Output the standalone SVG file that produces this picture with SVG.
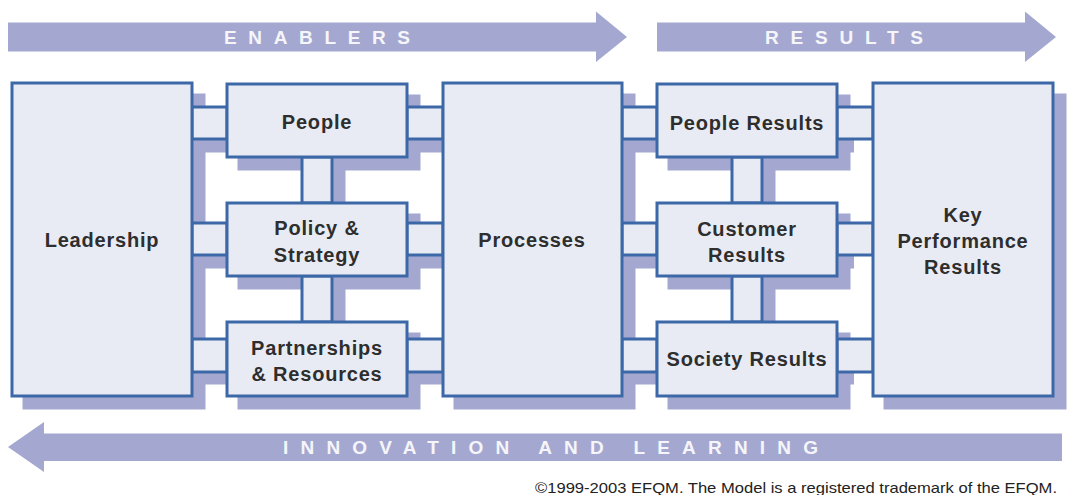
<svg xmlns="http://www.w3.org/2000/svg" width="1068" height="495" viewBox="0 0 1068 495">
<style>
.arrow{fill:#a4a8d0;}
.atext{font-family:"Liberation Sans",Arial,sans-serif;font-weight:bold;font-size:19px;fill:#f5f5fa;}
.sh{fill:#a4a8d0;}
.box{fill:#e9ebf4;stroke:#3d68a8;stroke-width:3;}
.con{fill:#e9ebf4;stroke:#3d68a8;stroke-width:3;}
.lbl{font-family:"Liberation Sans",Arial,sans-serif;font-weight:bold;font-size:20px;fill:#2e2e2e;text-anchor:middle;letter-spacing:0.8px;}
.copy{font-family:"Liberation Sans Narrow","Liberation Sans",Arial,sans-serif;font-size:15px;fill:#222;}
</style>
<rect width="1068" height="495" fill="#ffffff"/>

<g id="enablers-arrow">
<polygon class="arrow" points="8,22.5 596,22.5 596,11.5 627,37 596,62 596,51.5 8,51.5"/>
<text class="atext" x="224" y="44" textLength="186" lengthAdjust="spacing">ENABLERS</text>
</g>
<g id="results-arrow">
<polygon class="arrow" points="657,22.5 1025,22.5 1025,11.5 1056,37 1025,62 1025,51.5 657,51.5"/>
<text class="atext" x="765" y="44" textLength="158" lengthAdjust="spacing">RESULTS</text>
</g>
<g id="innovation-arrow">
<polygon class="arrow" points="8,447 44,422 44,433.5 1062,433.5 1062,461 44,461 44,472"/>
<text class="atext" x="283" y="454" textLength="535" lengthAdjust="spacing">INNOVATION AND LEARNING</text>
</g>

<g id="shadows">
<rect class="sh" x="22.5" y="93.5" width="183" height="316"/>
<rect class="sh" x="237.5" y="94.5" width="183" height="76"/>
<rect class="sh" x="237.5" y="213.5" width="183" height="76"/>
<rect class="sh" x="237.5" y="332.5" width="183" height="77"/>
<rect class="sh" x="453.5" y="93.5" width="182" height="316"/>
<rect class="sh" x="667.5" y="94.5" width="183" height="76"/>
<rect class="sh" x="667.5" y="213.5" width="183" height="76"/>
<rect class="sh" x="667.5" y="332.5" width="183" height="77"/>
<rect class="sh" x="883.5" y="93.5" width="183" height="316"/>
<!-- connector shadows -->
<rect class="sh" x="204" y="117.5" width="650" height="35"/>
<rect class="sh" x="204" y="233.5" width="650" height="35"/>
<rect class="sh" x="204" y="349.5" width="650" height="35"/>
<rect class="sh" x="312.5" y="169" width="33" height="165"/>
<rect class="sh" x="742.5" y="169" width="33" height="165"/>
</g>

<g id="connectors">
<rect class="con" x="192" y="107" width="35" height="32"/>
<rect class="con" x="407" y="107" width="36" height="32"/>
<rect class="con" x="622" y="107" width="35" height="32"/>
<rect class="con" x="837" y="107" width="36" height="32"/>
<rect class="con" x="192" y="223" width="35" height="32"/>
<rect class="con" x="407" y="223" width="36" height="32"/>
<rect class="con" x="622" y="223" width="35" height="32"/>
<rect class="con" x="837" y="223" width="36" height="32"/>
<rect class="con" x="192" y="339" width="35" height="33"/>
<rect class="con" x="407" y="339" width="36" height="33"/>
<rect class="con" x="622" y="339" width="35" height="33"/>
<rect class="con" x="837" y="339" width="36" height="33"/>
<rect class="con" x="302" y="157" width="30" height="46"/>
<rect class="con" x="302" y="276" width="30" height="46"/>
<rect class="con" x="732" y="157" width="30" height="46"/>
<rect class="con" x="732" y="276" width="30" height="46"/>
</g>

<g id="leadership">
<rect class="box" x="12" y="83" width="180" height="313"/>
<text class="lbl" x="102" y="247">Leadership</text>
</g>
<g id="people">
<rect class="box" x="227" y="84" width="180" height="73"/>
<text class="lbl" x="317" y="129">People</text>
</g>
<g id="policy-strategy">
<rect class="box" x="227" y="203" width="180" height="73"/>
<text class="lbl" x="317" y="235">Policy &amp;</text>
<text class="lbl" x="317" y="262">Strategy</text>
</g>
<g id="partnerships-resources">
<rect class="box" x="227" y="322" width="180" height="74"/>
<text class="lbl" x="317" y="355">Partnerships</text>
<text class="lbl" x="317" y="381">&amp; Resources</text>
</g>
<g id="processes">
<rect class="box" x="443" y="83" width="179" height="313"/>
<text class="lbl" x="532" y="247">Processes</text>
</g>
<g id="people-results">
<rect class="box" x="657" y="84" width="180" height="73"/>
<text class="lbl" x="747" y="130">People Results</text>
</g>
<g id="customer-results">
<rect class="box" x="657" y="203" width="180" height="73"/>
<text class="lbl" x="747" y="236">Customer</text>
<text class="lbl" x="747" y="262">Results</text>
</g>
<g id="society-results">
<rect class="box" x="657" y="322" width="180" height="74"/>
<text class="lbl" x="747" y="366">Society Results</text>
</g>
<g id="key-performance-results">
<rect class="box" x="873" y="83" width="180" height="313"/>
<text class="lbl" x="963" y="222">Key</text>
<text class="lbl" x="963" y="248">Performance</text>
<text class="lbl" x="963" y="274">Results</text>
</g>

<text class="copy" x="535" y="493" textLength="522" lengthAdjust="spacingAndGlyphs">©1999-2003 EFQM. The Model is a registered trademark of the EFQM.</text>
</svg>
